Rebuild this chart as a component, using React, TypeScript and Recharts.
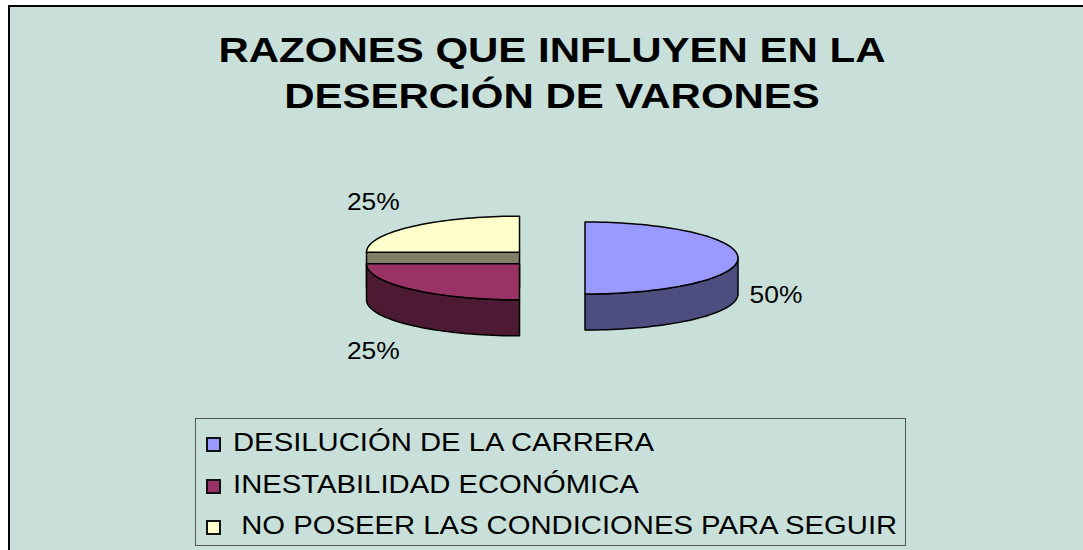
import { PieChart, Pie, Legend } from "recharts";

const categories = [
  "DESILUCIÓN DE LA CARRERA",
  "INESTABILIDAD ECONÓMICA",
  " NO POSEER LAS CONDICIONES PARA SEGUIR",
];
const values = [50, 25, 25];
const percentLabels = ["50%", "25%", "25%"];
const titleLines = ["RAZONES QUE INFLUYEN EN LA", "DESERCIÓN DE VARONES"];

const topColors = ["#9999FF", "#993366", "#FFFFCC"];
const sideColors = ["#4D4D80", "#4D1A33", "#808066"];

const data = categories.map((name, i) => ({ name, value: values[i] }));

// fake 3D pie geometry
const CX = 552;
const CY = 258;
const RX = 153;
const RY = 36;
const DEPTH = 36;
const EXPLODE = 33;
const FONT = '"Liberation Sans", Arial, sans-serif';

const rad = (a: number) => (a * Math.PI) / 180;

function sliceInfo(props: any) {
  const s = props.startAngle as number;
  const e = props.endAngle as number;
  const mid = (s + e) / 2;
  const c = Math.cos(rad(mid));
  const sn = Math.sin(rad(mid)) * 0.18;
  const l = Math.hypot(c, sn) || 1;
  const ox = props.cx + (EXPLODE * c) / l;
  const oy = props.cy - (EXPLODE * sn) / l;
  const rx = props.outerRadius;
  return { s, e, mid, ox, oy, rx, ry: (rx * RY) / RX };
}

function arc(ox: number, oy: number, rx: number, ry: number, from: number, to: number, dy = 0) {
  const n = Math.max(2, Math.ceil(Math.abs(to - from) / 2));
  const pts: string[] = [];
  for (let k = 0; k <= n; k++) {
    const a = from + ((to - from) * k) / n;
    pts.push(`${(ox + rx * Math.cos(rad(a))).toFixed(2)},${(oy - ry * Math.sin(rad(a)) + dy).toFixed(2)}`);
  }
  return pts;
}

function renderFaces(props: any) {
  const { s, e, ox, oy, rx, ry } = sliceInfo(props);
  const i = props.index;
  const faces: any[] = [];
  // start edge visible if cos(s) < 0, end edge if cos(e) > 0
  const edges: number[] = [];
  if (Math.cos(rad(s)) < -0.01) edges.push(s);
  if (Math.cos(rad(e)) > 0.01) edges.push(e);
  edges.forEach((a, k) => {
    const px = ox + rx * Math.cos(rad(a));
    const py = oy - ry * Math.sin(rad(a));
    faces.push(
      <path
        key={k}
        d={`M${ox},${oy} L${px},${py} L${px},${py + DEPTH} L${ox},${oy + DEPTH} Z`}
        fill={sideColors[i]}
        stroke="#000"
        strokeWidth={1.5}
        strokeLinejoin="round"
      />
    );
  });
  return <g key={`f${i}`}>{faces}</g>;
}

function renderWalls(props: any) {
  const { s, e, ox, oy, rx, ry } = sliceInfo(props);
  const i = props.index;
  const walls: any[] = [];
  for (let k = -2; k <= 1; k++) {
    const lo = Math.max(e, -180 + 360 * k);
    const hi = Math.min(s, 360 * k);
    if (hi - lo > 0.01) {
      const top = arc(ox, oy, rx, ry, hi, lo);
      const bottom = arc(ox, oy, rx, ry, lo, hi, DEPTH);
      walls.push(
        <path
          key={k}
          d={`M${top.join(" L")} L${bottom.join(" L")} Z`}
          fill={sideColors[i]}
          stroke="#000"
          strokeWidth={1.5}
          strokeLinejoin="round"
        />
      );
    }
  }
  return <g key={`w${i}`}>{walls}</g>;
}

function renderTops(props: any) {
  const { s, e, mid, ox, oy, rx, ry } = sliceInfo(props);
  const i = props.index;
  const pts = arc(ox, oy, rx, ry, s, e);
  const c = Math.cos(rad(mid));
  const sn = Math.sin(rad(mid));
  const lx = ox + c * rx + Math.sign(Math.round(c * 100)) * 38;
  const ly = oy - sn * (ry + 36) + (sn <= 0.01 ? DEPTH : 0);
  return (
    <g key={`t${i}`}>
      <path
        d={`M${ox},${oy} L${pts.join(" L")} Z`}
        fill={topColors[i]}
        stroke="#000"
        strokeWidth={1.5}
        strokeLinejoin="round"
      />
      <text
        transform={`translate(${lx},${ly}) scale(1.1,1)`}
        textAnchor="middle"
        dominantBaseline="central"
        fontFamily={FONT}
        fontSize={24}
        fill="#000"
      >
        {percentLabels[i]}
      </text>
    </g>
  );
}

function LegendBox({ payload }: any) {
  const rows = [23, 65, 106];
  const items: string[] = [];
  (payload || []).forEach((p: any) => {
    if (p.type !== "none" && !items.includes(p.value)) items.push(p.value);
  });
  items.sort((a, b) => categories.indexOf(a) - categories.indexOf(b));
  return (
    <div
      style={{
        boxSizing: "border-box",
        width: 711,
        height: 128,
        border: "1px solid #555",
        position: "relative",
        fontFamily: FONT,
      }}
    >
      {items.map((name, k) => {
        const i = categories.indexOf(name);
        return (
          <div
            key={name}
            style={{
              position: "absolute",
              left: 10,
              top: rows[k] - 15,
              height: 30,
              display: "flex",
              alignItems: "center",
            }}
          >
            <span
              style={{
                display: "inline-block",
                width: 11,
                height: 11,
                border: "2px solid #111",
                background: topColors[i],
                marginTop: 4,
              }}
            />
            <span
              style={{
                display: "inline-block",
                marginLeft: 12,
                fontSize: 25,
                color: "#000",
                whiteSpace: "pre",
                transform: "scaleX(1.17)",
                transformOrigin: "left center",
              }}
            >
              {name}
            </span>
          </div>
        );
      })}
    </div>
  );
}

export default function App() {
  return (
    <div style={{ position: "fixed", left: 0, top: 0, width: 1083, height: 550, background: "#fff" }}>
      <div
        style={{
          position: "absolute",
          left: 8,
          top: 5,
          width: 1075,
          height: 545,
          boxSizing: "border-box",
          background: "#C8E0D9",
          borderTop: "2px solid #000",
          borderLeft: "2px solid #000",
        }}
      />
      <svg width={1083} height={550} style={{ position: "absolute", left: 0, top: 0 }}>
        {titleLines.map((t, k) => (
          <text
            key={k}
            transform={`translate(552,${62 + k * 46}) scale(1.2,1)`}
            textAnchor="middle"
            fontFamily={FONT}
            fontWeight="bold"
            fontSize={35}
            fill="#000"
          >
            {t}
          </text>
        ))}
      </svg>
      <div style={{ position: "absolute", left: 0, top: 0 }}>
        <PieChart width={1083} height={550} margin={{ top: 0, right: 0, bottom: 0, left: 0 }}>
          <Pie
            data={data}
            dataKey="value"
            nameKey="name"
            cx={CX}
            cy={CY}
            outerRadius={RX}
            startAngle={90}
            endAngle={-270}
            fill="none"
            stroke="none"
            legendType="none"
            labelLine={false}
            label={renderFaces}
            isAnimationActive={false}
          />
          <Pie
            data={data}
            dataKey="value"
            nameKey="name"
            cx={CX}
            cy={CY}
            outerRadius={RX}
            startAngle={90}
            endAngle={-270}
            fill="none"
            stroke="none"
            legendType="none"
            labelLine={false}
            label={renderWalls}
            isAnimationActive={false}
          />
          <Pie
            data={data}
            dataKey="value"
            nameKey="name"
            cx={CX}
            cy={CY}
            outerRadius={RX}
            startAngle={90}
            endAngle={-270}
            fill="none"
            stroke="none"
            legendType="square"
            labelLine={false}
            label={renderTops}
            isAnimationActive={false}
          />
          <Legend
            content={<LegendBox />}
            wrapperStyle={{ position: "absolute", left: 195, top: 418, width: 711, height: 128, bottom: "auto" }}
          />
        </PieChart>
      </div>
    </div>
  );
}
